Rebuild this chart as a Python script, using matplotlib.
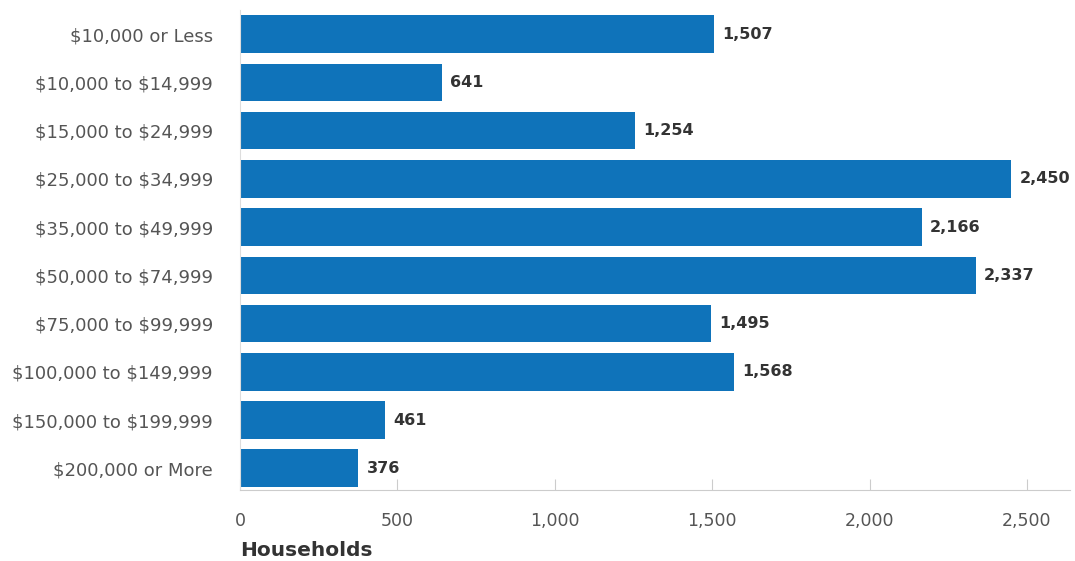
import matplotlib
matplotlib.use("Agg")
import matplotlib.pyplot as plt

categories = ["$10,000 or Less", "$10,000 to $14,999", "$15,000 to $24,999",
              "$25,000 to $34,999", "$35,000 to $49,999", "$50,000 to $74,999",
              "$75,000 to $99,999", "$100,000 to $149,999", "$150,000 to $199,999",
              "$200,000 or More"]
households = [1507, 641, 1254, 2450, 2166, 2337, 1495, 1568, 461, 376]
xticks = [0, 500, 1000, 1500, 2000, 2500]
xtick_labels = ["0", "500", "1,000", "1,500", "2,000", "2,500"]

plt.rcParams['font.family'] = ['DejaVu Sans']

fig = plt.figure(figsize=(10.75, 5.61), dpi=100)
ax = fig.add_axes([240/1075, 1-490/561, 830/1075, 480/561])

ypos = list(range(len(categories)))
ax.barh(ypos, households, height=0.78, color="#0f73ba")
for y, v in zip(ypos, households):
    ax.text(v + 26, y, f"{v:,}", va="center", ha="left", fontsize=11.5,
            fontweight="bold", color="#333333")

ax.set_ylim(9.45, -0.5)
ax.set_xlim(0, 2637)
ax.set_yticks(ypos)
ax.set_yticklabels([c.replace("$", r"\$") for c in categories],
                   fontsize=13, color="#555555")
ax.set_xticks(xticks)
ax.set_xticklabels(xtick_labels, fontsize=12.5, color="#555555")
ax.tick_params(axis="y", length=0, pad=19.5)
ax.tick_params(axis="x", direction="in", length=8, color="#cccccc", pad=16)

for s in ["top", "right"]:
    ax.spines[s].set_visible(False)
ax.spines["left"].set_color("#dddddd")
ax.spines["bottom"].set_color("#cccccc")

fig.text(240/1075, 1-551/561, "Households", fontsize=14.5, fontweight="bold",
         color="#333333", ha="left", va="center")

fig.savefig("out.png", dpi=100)
